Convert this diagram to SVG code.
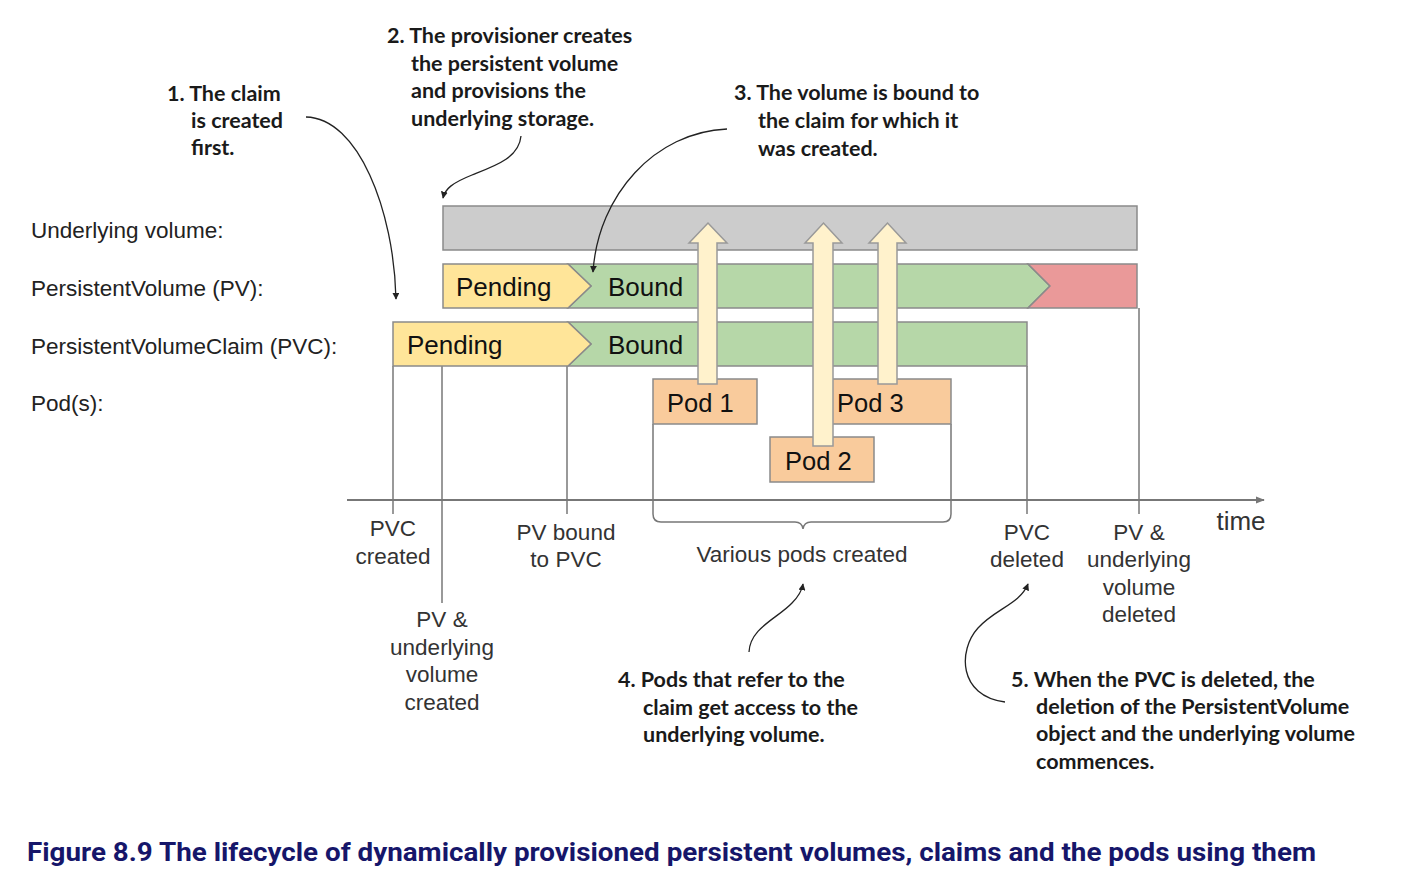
<svg xmlns="http://www.w3.org/2000/svg" width="1422" height="886" viewBox="0 0 1422 886">
<defs>
<marker id="ah" viewBox="0 0 10 10" refX="9" refY="5" markerWidth="7" markerHeight="7" markerUnits="userSpaceOnUse" orient="auto"><path d="M0,0 L10,5 L0,10 z" fill="#222"/></marker>
<marker id="axh" viewBox="0 0 10 10" refX="9" refY="5" markerWidth="9" markerHeight="9" markerUnits="userSpaceOnUse" orient="auto"><path d="M0,1 L10,5 L0,9 z" fill="#777"/></marker>
<style>
.lbl{font-family:"Liberation Sans",Arial,sans-serif;font-size:22.5px;fill:#222}
.bar{font-family:"Liberation Sans",Arial,sans-serif;font-size:26px;fill:#111}
.pod{font-family:"Liberation Sans",Arial,sans-serif;font-size:25.5px;fill:#111}
.tl{font-family:"Liberation Sans",Arial,sans-serif;font-size:22.5px;fill:#333;text-anchor:middle}
.ann{font-family:Lato,"Open Sans",sans-serif;font-size:21.5px;font-weight:bold;fill:#1a1a1a}
.cap{font-family:Roboto,"Liberation Sans",sans-serif;font-size:26px;font-weight:bold;fill:#16166a}
.box{stroke:#8a8a8a;stroke-width:1.5}
.tick{stroke:#777;stroke-width:1.5;fill:none}
.cv{stroke:#222;stroke-width:1.3;fill:none;marker-end:url(#ah)}
.up{fill:#fff2cc;stroke:#999;stroke-width:1.5}
</style>
</defs>
<rect width="1422" height="886" fill="#fff"/>

<g id="row-labels">
<text class="lbl" x="31" y="238">Underlying volume:</text>
<text class="lbl" x="31" y="296">PersistentVolume (PV):</text>
<text class="lbl" x="31" y="354">PersistentVolumeClaim (PVC):</text>
<text class="lbl" x="31" y="411">Pod(s):</text>
</g>

<g id="timeline">
<line class="tick" x1="393" y1="366" x2="393" y2="514"/>
<line class="tick" x1="442" y1="366" x2="442" y2="603"/>
<line class="tick" x1="567" y1="366" x2="567" y2="514"/>
<line class="tick" x1="1027" y1="366" x2="1027" y2="514"/>
<line class="tick" x1="1139" y1="308" x2="1139" y2="514"/>
<path class="tick" d="M653,424 L653,514 Q653,522 661,522 L795,522 Q802,522 803,529 Q804,522 811,522 L943,522 Q951,522 951,514 L951,424"/>
<line x1="347" y1="500" x2="1264" y2="500" stroke="#777" stroke-width="2" marker-end="url(#axh)"/>
</g>

<g id="underlying-volume">
<rect class="box" x="443" y="206" width="694" height="44" fill="#cccccc"/>
</g>

<g id="pv">
<polygon class="box" points="568,264 1028,264 1050,286 1028,308 568,308 591,286" fill="#b6d7a8"/>
<polygon class="box" points="1028,264 1137,264 1137,308 1028,308 1050,286" fill="#ea9999"/>
<polygon class="box" points="443,264 568,264 591,286 568,308 443,308" fill="#ffe599"/>
<text class="bar" x="456" y="296">Pending</text>
<text class="bar" x="608" y="296">Bound</text>
</g>

<g id="pvc">
<polygon class="box" points="568,322 1027,322 1027,366 568,366 591,344" fill="#b6d7a8"/>
<polygon class="box" points="393,322 568,322 591,344 568,366 393,366" fill="#ffe599"/>
<text class="bar" x="407" y="354">Pending</text>
<text class="bar" x="608" y="354">Bound</text>
</g>

<g id="pod1">
<rect class="box" x="653" y="379" width="104" height="45" fill="#f9cb9c"/>
<text class="pod" x="667" y="412">Pod 1</text>
</g>
<g id="pod3">
<rect class="box" x="822" y="379" width="129" height="45" fill="#f9cb9c"/>
<text class="pod" x="837" y="412">Pod 3</text>
</g>
<g id="pod2">
<rect class="box" x="770" y="437" width="104" height="45" fill="#f9cb9c"/>
<text class="pod" x="785" y="470">Pod 2</text>
</g>

<g id="connectors">
<polygon class="up" points="698,384 698,243 689,243 708,223 727,243 717,243 717,384"/>
<polygon class="up" points="813,446 813,243 805,243 823.5,223 842,243 833,243 833,446"/>
<polygon class="up" points="878,384 878,243 869,243 887.5,223 906,243 897,243 897,384"/>
<path class="cv" d="M306,117 C358,118 394,210 396,299"/>
<path class="cv" d="M521,136 C519,158 495,166 472,175 C452,183 445,189 443,198"/>
<path class="cv" d="M727,129 C655,132 598,195 593,272"/>
<path class="cv" d="M749,652 C750,628 778,618 792,603 C799,596 802,590 803,584"/>
<path class="cv" d="M1005,702 C958,696 958,650 978,628 C995,609 1020,604 1028,584"/>
</g>

<g id="time-labels">
<text class="tl" x="393" y="536">PVC</text>
<text class="tl" x="393" y="564">created</text>
<text class="tl" x="442" y="627">PV &amp;</text>
<text class="tl" x="442" y="655">underlying</text>
<text class="tl" x="442" y="682">volume</text>
<text class="tl" x="442" y="710">created</text>
<text class="tl" x="566" y="540">PV bound</text>
<text class="tl" x="566" y="567">to PVC</text>
<text class="tl" x="802" y="562">Various pods created</text>
<text class="tl" x="1027" y="540">PVC</text>
<text class="tl" x="1027" y="567">deleted</text>
<text class="tl" x="1139" y="540">PV &amp;</text>
<text class="tl" x="1139" y="567">underlying</text>
<text class="tl" x="1139" y="595">volume</text>
<text class="tl" x="1139" y="622">deleted</text>
<text class="tl" x="1241" y="530" style="font-size:26px">time</text>
</g>

<g id="annotations">
<text class="ann" x="167" y="101">1. The claim</text>
<text class="ann" x="191" y="128">is created</text>
<text class="ann" x="191" y="155">first.</text>
<text class="ann" x="387" y="43">2. The provisioner creates</text>
<text class="ann" x="411" y="71">the persistent volume</text>
<text class="ann" x="411" y="98">and provisions the</text>
<text class="ann" x="411" y="126">underlying storage.</text>
<text class="ann" x="734" y="100">3. The volume is bound to</text>
<text class="ann" x="758" y="128">the claim for which it</text>
<text class="ann" x="758" y="156">was created.</text>
<text class="ann" x="618" y="687">4. Pods that refer to the</text>
<text class="ann" x="643" y="715">claim get access to the</text>
<text class="ann" x="643" y="742">underlying volume.</text>
<text class="ann" x="1011" y="687">5. When the PVC is deleted, the</text>
<text class="ann" x="1036" y="714">deletion of the PersistentVolume</text>
<text class="ann" x="1036" y="741">object and the underlying volume</text>
<text class="ann" x="1036" y="769">commences.</text>
</g>

<text class="cap" x="27" y="861" textLength="1289" lengthAdjust="spacingAndGlyphs">Figure 8.9 The lifecycle of dynamically provisioned persistent volumes, claims and the pods using them</text>
</svg>
